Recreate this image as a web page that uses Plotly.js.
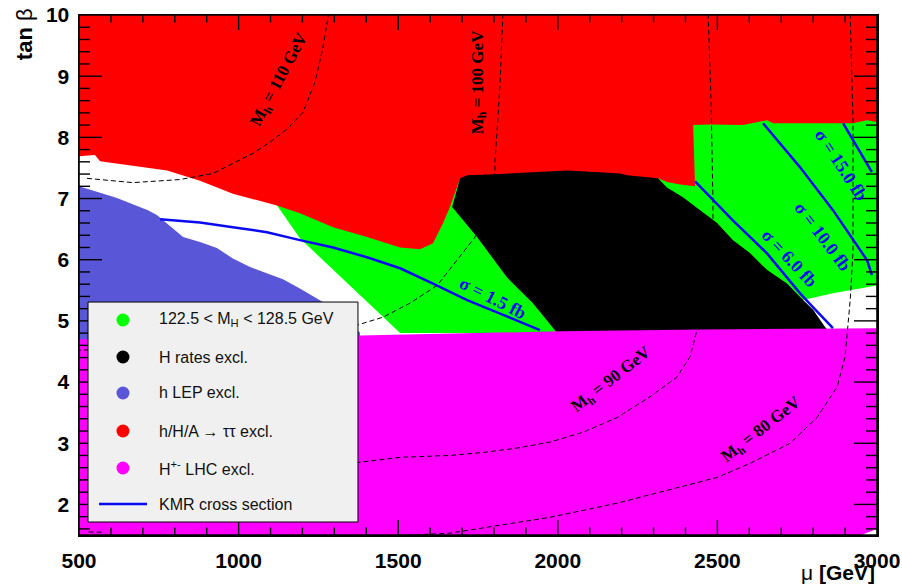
<!DOCTYPE html>
<html>
<head>
<meta charset="utf-8">
<script src="https://cdn.plot.ly/plotly-3.0.1.min.js"></script>
<style>html,body{margin:0;padding:0;background:#fff;}#plot{width:902px;height:584px;}</style>
</head>
<body>
<div id="plot"></div>
<script>
// ---- region boundaries (mu [GeV], tan beta) ----
const greenX = [1098, 1694, 2424, 3000, 3000, 2969, 2862, 2768, 2853, 1506, 1192, 1120];
const greenY = [6.97, 7.46, 8.31, 8.31, 5.58, 5.55, 5.45, 5.34, 4.80, 4.80, 6.35, 6.89];

const lepX = [500, 566, 619, 716, 744, 826, 879, 932, 982, 1036, 1089, 1139, 1192, 1296, 1380, 1380, 500];
const lepY = [7.20, 7.10, 7.01, 6.81, 6.73, 6.37, 6.29, 6.19, 6.02, 5.88, 5.78, 5.68, 5.53, 5.21, 4.81, 4.60, 4.60];

const tauX = [500, 3000, 3000, 2969, 2925, 2674, 2656, 2580, 2477, 2424, 2430, 2383, 2342, 2314, 2132, 1860, 1694, 1662, 1640, 1609, 1568, 1506, 1402, 1296, 1192, 1117, 982, 879, 776, 669, 566, 550, 500];
const tauY = [10, 10, 8.25, 8.28, 8.23, 8.23, 8.28, 8.20, 8.21, 8.20, 7.20, 7.23, 7.27, 7.33, 7.25, 7.25, 7.33, 6.86, 6.59, 6.27, 6.17, 6.20, 6.37, 6.53, 6.76, 6.89, 7.08, 7.29, 7.46, 7.54, 7.61, 7.71, 7.69];

const ratesX = [1694, 1716, 1819, 1860, 2029, 2132, 2195, 2217, 2289, 2314, 2342, 2392, 2446, 2499, 2549, 2602, 2656, 2718, 2759, 2800, 2837, 2853, 1998, 1922, 1841, 1747, 1669];
const ratesY = [7.33, 7.38, 7.40, 7.41, 7.46, 7.43, 7.41, 7.38, 7.35, 7.33, 7.18, 7.02, 6.81, 6.60, 6.32, 6.11, 5.83, 5.61, 5.39, 5.18, 4.90, 4.80, 4.80, 5.29, 5.71, 6.37, 6.86];

const chargedX = [500, 879, 1381, 2008, 2446, 3000, 3000, 2950, 500];
const chargedY = [4.70, 4.73, 4.76, 4.83, 4.86, 4.88, 1.60, 1.50, 1.50];

// ---- M_h contours (dashed) ----
const mh110X = [525, 669, 816, 920, 1045, 1098, 1155, 1202, 1239, 1264, 1280, 1283];
const mh110Y = [7.33, 7.26, 7.31, 7.41, 7.74, 7.92, 8.15, 8.41, 8.90, 9.46, 9.96, 10.04];
const mh100X = [1828, 1819, 1810, 1803, 1803, 1770, 1741, 1684, 1622, 1537, 1452, 1371, 1192, 879, 500];
const mh100Y = [10.02, 8.88, 8.11, 7.62, 7.41, 6.9, 6.37, 5.99, 5.58, 5.29, 5.06, 4.93, 4.72, 4.60, 4.52];
const mh90X = [2471, 2480, 2486, 2486, 2461, 2436, 2414, 2373, 2289, 2186, 2079, 1976, 1872, 1766, 1662, 1506, 1380, 1000, 500];
const mh90Y = [10.02, 8.61, 6.97, 6.53, 5.50, 4.85, 4.41, 4.08, 3.76, 3.42, 3.18, 3.02, 2.92, 2.85, 2.80, 2.77, 2.69, 2.55, 2.40];
const mh80X = [2916, 2925, 2925, 2925, 2916, 2906, 2900, 2875, 2812, 2728, 2602, 2499, 2342, 2186, 1976, 1819, 1662, 1506, null, 530, 575];
const mh80Y = [10.02, 8.23, 6.97, 6.15, 5.34, 4.80, 4.41, 3.92, 3.42, 3.00, 2.67, 2.44, 2.23, 2.02, 1.79, 1.66, 1.53, 1.49, null, 1.55, 1.545];

// ---- KMR cross-section contours ----
const s15X = [754, 879, 982, 1089, 1192, 1296, 1402, 1506, 1609, 1716, 1819, 1944];
const s15Y = [6.66, 6.61, 6.53, 6.45, 6.32, 6.20, 6.04, 5.86, 5.61, 5.34, 5.12, 4.85];
const s6X = [2430, 2549, 2656, 2759, 2800, 2862];
const s6Y = [7.28, 6.64, 6.10, 5.45, 5.22, 4.88];
const s10X = [2643, 2759, 2862, 2969, 2984];
const s10Y = [8.23, 7.51, 6.81, 5.99, 5.75];
const s15bX = [2894, 2984];
const s15bY = [8.23, 7.43];

// ---- labels ----
const mhLabels = ["M<sub>h</sub> = 110 GeV", "M<sub>h</sub> = 100 GeV", "M<sub>h</sub> = 90 GeV", "M<sub>h</sub> = 80 GeV"];
const mhLabelX = [1130, 1753, 2170, 2640];
const mhLabelY = [8.93, 8.90, 4.03, 3.21];
const mhLabelAngle = [-62, -90, -38, -38];
const sigLabels = ["σ = 1.5 fb", "σ = 6.0 fb", "σ = 10.0 fb", "σ = 15.0 fb"];
const sigLabelX = [1797, 2724, 2828, 2887];
const sigLabelY = [5.38, 6.02, 6.38, 7.54];
const sigLabelAngle = [27, 47, 53, 57];

const legendNames = ["122.5 &lt; M<sub>H</sub> &lt; 128.5 GeV", "H rates excl.", "h LEP excl.", "h/H/A → ττ excl.", "H<sup>+-</sup> LHC excl.", "KMR cross section"];

// axis ticks
const xRange = [500, 3000];
const yRange = [1.5, 10];
const xMajor = [500, 1000, 1500, 2000, 2500, 3000];
const xMinorStep = 100;
const yMajor = [2, 3, 4, 5, 6, 7, 8, 9, 10];
const yMinorStep = 0.2;

const GREEN = "#00ff00", BLACK = "#000000", LEP = "#5a56d8", RED = "#ff0000", MAG = "#ff00ff", KMR = "#0a0af0";
const legendColors = [GREEN, BLACK, LEP, RED, MAG];

function region(x, y, c) {
  return {x: x, y: y, type: "scatter", mode: "lines", fill: "toself", fillcolor: c,
          line: {width: 0, color: c}, hoverinfo: "skip", showlegend: false};
}
function dashed(x, y) {
  return {x: x, y: y, type: "scatter", mode: "lines", line: {color: "#000", width: 1, dash: "5px,3px"},
          hoverinfo: "skip", showlegend: false, connectgaps: false};
}
function kmr(x, y) {
  return {x: x, y: y, type: "scatter", mode: "lines", line: {color: KMR, width: 2.5},
          hoverinfo: "skip", showlegend: false};
}

// tick marks as a line trace drawn on top of the filled regions (lengths converted from pixels)
const plotW = 798, plotH = 520;
const xUnitPerPx = (xRange[1] - xRange[0]) / plotW;
const yUnitPerPx = (yRange[1] - yRange[0]) / plotH;
const tickX = [], tickY = [];
for (let v = xRange[0] + xMinorStep; v < xRange[1]; v += xMinorStep) {
  const len = (xMajor.indexOf(v) >= 0 ? 15 : 7.5) * yUnitPerPx;
  tickX.push(v, v, null, v, v, null);
  tickY.push(yRange[0], yRange[0] + len, null, yRange[1] - len, yRange[1], null);
}
for (let k = 8; k < 50; k++) {
  const v = Math.round(k * yMinorStep * 10) / 10;
  const len = (yMajor.indexOf(v) >= 0 ? 23 : 11) * xUnitPerPx;
  tickX.push(xRange[0], xRange[0] + len, null, xRange[1] - len, xRange[1], null);
  tickY.push(v, v, null, v, v, null);
}

const traces = [
  region(greenX, greenY, GREEN),
  region(lepX, lepY, LEP),
  region(tauX, tauY, RED),
  region(ratesX, ratesY, BLACK),
  region(chargedX, chargedY, MAG),
  dashed(mh110X, mh110Y), dashed(mh100X, mh100Y), dashed(mh90X, mh90Y), dashed(mh80X, mh80Y),
  kmr(s15X, s15Y), kmr(s6X, s6Y), kmr(s10X, s10Y), kmr(s15bX, s15bY),
  {x: tickX, y: tickY, type: "scatter", mode: "lines", line: {color: "#000", width: 1.4},
   connectgaps: false, hoverinfo: "skip", showlegend: false}
];

const annotations = [];
for (let i = 0; i < mhLabels.length; i++) {
  annotations.push({x: mhLabelX[i], y: mhLabelY[i], xref: "x", yref: "y", text: "<b>" + mhLabels[i] + "</b>",
    textangle: mhLabelAngle[i], showarrow: false, font: {family: "Liberation Serif", size: 17, color: "#000"}});
}
for (let i = 0; i < sigLabels.length; i++) {
  annotations.push({x: sigLabelX[i], y: sigLabelY[i], xref: "x", yref: "y", text: "<b>" + sigLabels[i] + "</b>",
    textangle: sigLabelAngle[i], showarrow: false, font: {family: "Liberation Serif", size: 18, color: KMR}});
}
// axis titles
annotations.push({xref: "paper", yref: "paper", x: -0.069, y: 0.963, text: "<b>tan</b> β", textangle: -90,
  showarrow: false, xanchor: "center", yanchor: "middle", font: {family: "Liberation Sans", size: 22, color: "#000"}});
annotations.push({xref: "paper", yref: "paper", x: 1.0, y: -0.073, text: "μ <b>[GeV]</b>",
  showarrow: false, xanchor: "right", yanchor: "middle", font: {family: "Liberation Sans", size: 21, color: "#000"}});

// ---- shapes: frame and legend ----
const shapes = [];
shapes.push({type: "rect", xref: "paper", yref: "paper", x0: 0, x1: 1, y0: 0, y1: 1,
  line: {color: "#000", width: 1.6}, layer: "above"});
shapes.push({type: "rect", xref: "paper", yref: "paper", x0: 0.0113, x1: 0.3496, y0: 0.025, y1: 0.448,
  fillcolor: "#f0f0f0", line: {color: "#000", width: 1}, layer: "above"});
const rowY = [0.4135, 0.3423, 0.2731, 0.2, 0.1288, 0.0596];
for (let i = 0; i < legendColors.length; i++) {
  shapes.push({type: "circle", xref: "paper", yref: "paper", xsizemode: "pixel", ysizemode: "pixel",
    xanchor: 0.0551, yanchor: rowY[i], x0: -6.5, x1: 6.5, y0: -6.5, y1: 6.5,
    fillcolor: legendColors[i], line: {width: 0}, layer: "above"});
}
shapes.push({type: "line", xref: "paper", yref: "paper", x0: 0.0251, x1: 0.0852, y0: rowY[5], y1: rowY[5],
  line: {color: KMR, width: 2.5}, layer: "above"});
for (let i = 0; i < legendNames.length; i++) {
  annotations.push({xref: "paper", yref: "paper", x: 0.0977, y: rowY[i], text: legendNames[i], showarrow: false,
    xanchor: "left", yanchor: "middle", font: {family: "Liberation Sans", size: 16, color: "#111"}});
}

const axisCommon = {showgrid: false, zeroline: false, showline: true, linecolor: "#000", linewidth: 1.5,
  mirror: true, ticks: "",
  tickfont: {family: "Liberation Sans", size: 21, color: "#000", weight: 700}};

const layout = {
  width: 902, height: 584,
  margin: {l: 79, r: 25, t: 15, b: 49},
  paper_bgcolor: "#fff", plot_bgcolor: "#fff",
  showlegend: false,
  xaxis: Object.assign({}, axisCommon, {range: xRange, tickmode: "array", tickvals: xMajor,
    ticktext: xMajor.map(String), ticklabelstandoff: 6}),
  yaxis: Object.assign({}, axisCommon, {range: yRange, tickmode: "array", tickvals: yMajor,
    ticktext: yMajor.map(String), ticklabelstandoff: 4}),
  shapes: shapes,
  annotations: annotations
};

Plotly.newPlot("plot", traces, layout, {displayModeBar: false, staticPlot: true});
</script>
</body>
</html>
